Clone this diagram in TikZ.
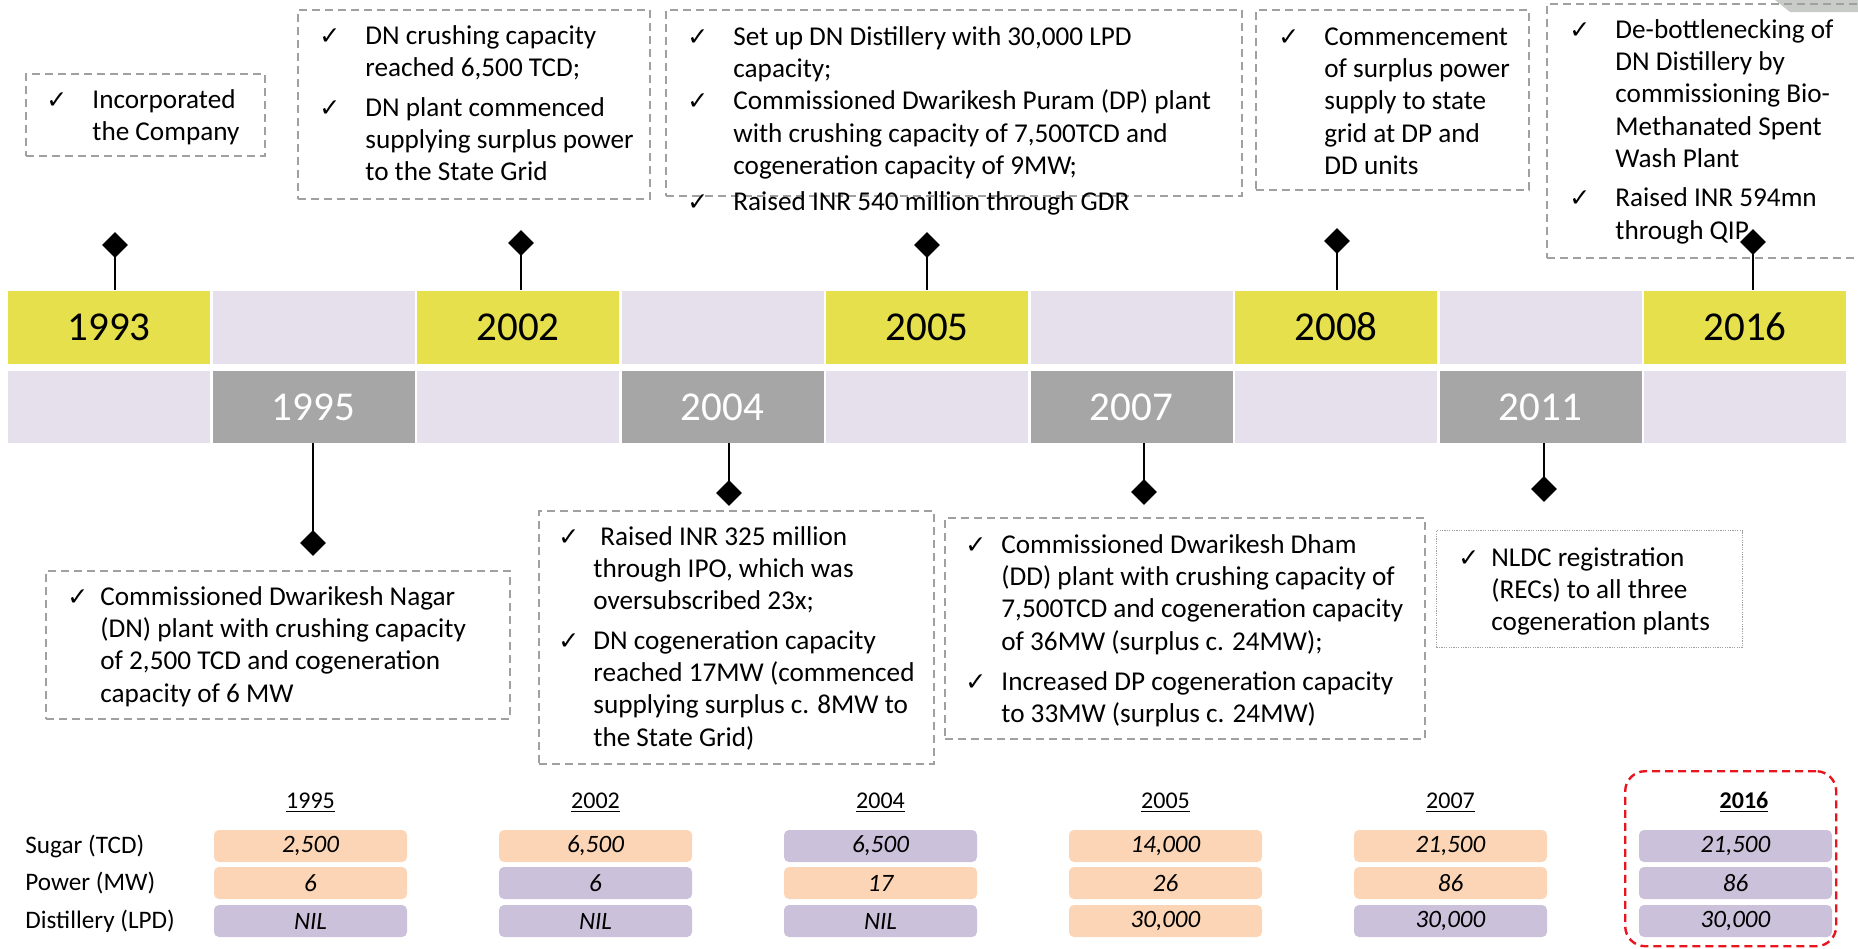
\documentclass[tikz,border=0pt]{standalone}
\usepackage{fontspec}
\setmainfont{Carlito}
\newfontfamily\ckfont{DejaVu Sans}
\usetikzlibrary{shapes.geometric}
\definecolor{yel}{RGB}{229,224,76}
\definecolor{lav}{RGB}{229,224,236}
\definecolor{gry}{RGB}{166,166,166}
\definecolor{peach}{RGB}{251,213,181}
\definecolor{lavd}{RGB}{204,193,218}
\definecolor{dashgray}{RGB}{160,160,160}
\definecolor{redd}{RGB}{232,20,30}
\definecolor{shapegray}{RGB}{200,204,200}
\newcommand\ckm[1]{\makebox[#1][l]{\ckfont\fontsize{12.5}{14}\selectfont ✓}}
\newcommand\boxfont{\fontsize{13.6}{16.2}\selectfont}
\begin{document}
\begin{tikzpicture}[x=0.5pt,y=-0.5pt,
  cell/.style={inner sep=0, minimum width=101pt, font=\fontsize{20.5}{23}\selectfont},
  dbox/.style={draw=dashgray, line width=0.75pt, dash pattern=on 4pt off 2.5pt, anchor=north west, inner sep=0},
  txt/.style={anchor=base west, inner sep=0, font=\boxfont, text=black},
  dia/.style={diamond, fill=black, inner sep=0, minimum width=13pt, minimum height=13pt},
  stem/.style={line width=1pt, black},
  vcell/.style={rounded corners=2.5pt, minimum width=96.5pt, minimum height=16pt, inner sep=0, font=\fontsize{12.5}{14}\selectfont\itshape},
  lbl/.style={anchor=west, inner sep=0, font=\fontsize{12.6}{15}\selectfont},
  hdr/.style={anchor=base, inner sep=0, font=\fontsize{12}{14}\selectfont}]
\useasboundingbox (0,0) rectangle (1858,948);
\clip (0,0) rectangle (1858,948);
\fill[shapegray] (1775,0) -- (1858,0) -- (1858,12) -- (1790,12) -- cycle;

% timeline cells
\foreach \i/\c/\t in {0/yel/1993,1/lav/,2/yel/2002,3/lav/,4/yel/2005,5/lav/,6/yel/2008,7/lav/,8/yel/2016}
  \node[cell, fill=\c, minimum height=36.5pt] (top\i) at ({109+204.5*\i},327) {\t};
\foreach \i/\c/\t in {0/lav/,1/gry/1995,2/lav/,3/gry/2004,4/lav/,5/gry/2007,6/lav/,7/gry/2011,8/lav/}
  \node[cell, fill=\c, text=white, minimum height=36pt] (bot\i) at ({109+204.5*\i},407) {\t};

% top boxes
\node[dbox, minimum width=119.5pt, minimum height=41pt] (b1993) at (25,73) {};
\node[dbox, minimum width=176pt, minimum height=94.5pt] (b2002) at (297,9) {};
\node[dbox, minimum width=288pt, minimum height=93pt] (b2005) at (665,9) {};
\node[dbox, minimum width=136.5pt, minimum height=90pt] (b2008) at (1255,9) {};
\node[dbox, minimum width=170pt, minimum height=127pt] (b2016) at (1546,3) {};

\node[txt] (t1993) at (46,108) {\begin{tabular}[t]{@{}l@{}l@{}}\ckm{23pt}&Incorporated\\&the Company\end{tabular}};
\node[txt] (t2002) at (319,44) {\begin{tabular}[t]{@{}l@{}l@{}}\ckm{23pt}&DN crushing capacity\\&reached 6,500 TCD;\\[3.6pt]\ckm{23pt}&DN plant commenced\\&supplying surplus power\\&to the State Grid\end{tabular}};
\node[txt] (t2005) at (687,45) {\begin{tabular}[t]{@{}l@{}l@{}}\ckm{23pt}&Set up DN Distillery with 30,000 LPD\\&capacity;\\\ckm{23pt}&Commissioned Dwarikesh Puram (DP) plant\\&with crushing capacity of 7,500TCD and\\&cogeneration capacity of 9MW;\\[1.5pt]\ckm{23pt}&Raised INR 540 million through GDR\end{tabular}};
\node[txt] (t2008) at (1278,45) {\begin{tabular}[t]{@{}l@{}l@{}}\ckm{23pt}&Commencement\\&of surplus power\\&supply to state\\&grid at DP and\\&DD units\end{tabular}};
\node[txt] (t2016) at (1569,38) {\begin{tabular}[t]{@{}l@{}l@{}}\ckm{23pt}&De-bottlenecking of\\&DN Distillery by\\&commissioning Bio-\\&Methanated Spent\\&Wash Plant\\[3.3pt]\ckm{23pt}&Raised INR 594mn\\&through QIP\end{tabular}};

% bottom boxes
\node[dbox, minimum width=232pt, minimum height=74pt] (b1995) at (45,570) {};
\node[dbox, minimum width=197.5pt, minimum height=126.5pt] (b2004) at (538,510) {};
\node[dbox, minimum width=240pt, minimum height=110.5pt] (b2007) at (944,517) {};
\node[dbox, dash pattern=on 0.6pt off 0.6pt, line width=0.5pt, minimum width=153pt, minimum height=58.5pt] (b2011) at (1436,530) {};

\node[txt] (t1995) at (67,605) {\begin{tabular}[t]{@{}l@{}l@{}}\ckm{16.5pt}&Commissioned Dwarikesh Nagar\\&(DN) plant with crushing capacity\\&of 2,500 TCD and cogeneration\\&capacity of 6 MW\end{tabular}};
\node[txt] (t2004) at (558,545) {\begin{tabular}[t]{@{}l@{}l@{}}\ckm{17.5pt}&\hspace{3.5pt}Raised INR 325 million\\&through IPO, which was\\&oversubscribed 23x;\\[3.4pt]\ckm{17.5pt}&DN cogeneration capacity\\&reached 17MW (commenced\\&supplying surplus c. 8MW to\\&the State Grid)\end{tabular}};
\node[txt] (t2007) at (965,553) {\begin{tabular}[t]{@{}l@{}l@{}}\ckm{18pt}&Commissioned Dwarikesh Dham\\&(DD) plant with crushing capacity of\\&7,500TCD and cogeneration capacity\\&of 36MW (surplus c. 24MW);\\[3.7pt]\ckm{18pt}&Increased DP cogeneration capacity\\&to 33MW (surplus c. 24MW)\end{tabular}};
\node[txt] (t2011) at (1458,566) {\begin{tabular}[t]{@{}l@{}l@{}}\ckm{16.5pt}&NLDC registration\\&(RECs) to all three\\&cogeneration plants\end{tabular}};

% diamonds and stems
\node[dia] (d1993) at (115,245) {};
\node[dia] (d2002) at (521,243) {};
\node[dia] (d2005) at (927,245) {};
\node[dia] (d2008) at (1337,241) {};
\node[dia] (d2016) at (1753,242) {};
\draw[stem] (d1993.center) -- (d1993.center |- top0.north);
\draw[stem] (d2002.center) -- (d2002.center |- top2.north);
\draw[stem] (d2005.center) -- (d2005.center |- top4.north);
\draw[stem] (d2008.center) -- (d2008.center |- top6.north);
\draw[stem] (d2016.center) -- (d2016.center |- top8.north);
\node[dia] (d1995) at (313,543) {};
\node[dia] (d2004) at (729,493) {};
\node[dia] (d2007) at (1144,492) {};
\node[dia] (d2011) at (1544,489) {};
\draw[stem] (bot1.south -| d1995.center) -- (d1995.center);
\draw[stem] (bot3.south -| d2004.center) -- (d2004.center);
\draw[stem] (bot5.south -| d2007.center) -- (d2007.center);
\draw[stem] (bot7.south -| d2011.center) -- (d2011.center);

% table
\node[lbl] (lsug) at (25,846) {Sugar (TCD)};
\node[lbl] (lpow) at (25,883) {Power (MW)};
\node[lbl] (ldis) at (25,921) {Distillery (LPD)};
\foreach \yr/\x in {1995/310.5, 2002/595.5, 2004/880.5, 2005/1165.5, 2007/1450.5}
  \node[hdr] (h\yr) at (\x,808) {\underline{\yr}};
\node[hdr, font=\fontsize{12}{14}\selectfont\bfseries] (h2016) at (1744,808) {\underline{2016}};

\node[vcell, fill=peach] (s1995) at (310.5,846) {2,500};
\node[vcell, fill=peach] (p1995) at (310.5,883) {6};
\node[vcell, fill=lavd] (x1995) at (310.5,921) {NIL};
\node[vcell, fill=peach] (s2002) at (595.5,846) {6,500};
\node[vcell, fill=lavd] (p2002) at (595.5,883) {6};
\node[vcell, fill=lavd] (x2002) at (595.5,921) {NIL};
\node[vcell, fill=lavd] (s2004) at (880.5,846) {6,500};
\node[vcell, fill=peach] (p2004) at (880.5,883) {17};
\node[vcell, fill=lavd] (x2004) at (880.5,921) {NIL};
\node[vcell, fill=peach] (s2005) at (1165.5,846) {14,000};
\node[vcell, fill=peach] (p2005) at (1165.5,883) {26};
\node[vcell, fill=peach] (x2005) at (1165.5,921) {30,000};
\node[vcell, fill=peach] (s2007) at (1450.5,846) {21,500};
\node[vcell, fill=peach] (p2007) at (1450.5,883) {86};
\node[vcell, fill=lavd] (x2007) at (1450.5,921) {30,000};
\node[vcell, fill=lavd] (s2016) at (1735.5,846) {21,500};
\node[vcell, fill=lavd] (p2016) at (1735.5,883) {86};
\node[vcell, fill=lavd] (x2016) at (1735.5,921) {30,000};

\node[draw=redd, line width=1.2pt, dash pattern=on 4pt off 2.5pt, rounded corners=10pt, anchor=north west, minimum width=105.5pt, minimum height=87.5pt, inner sep=0] (hl) at (1624,770) {};
\end{tikzpicture}
\end{document}
